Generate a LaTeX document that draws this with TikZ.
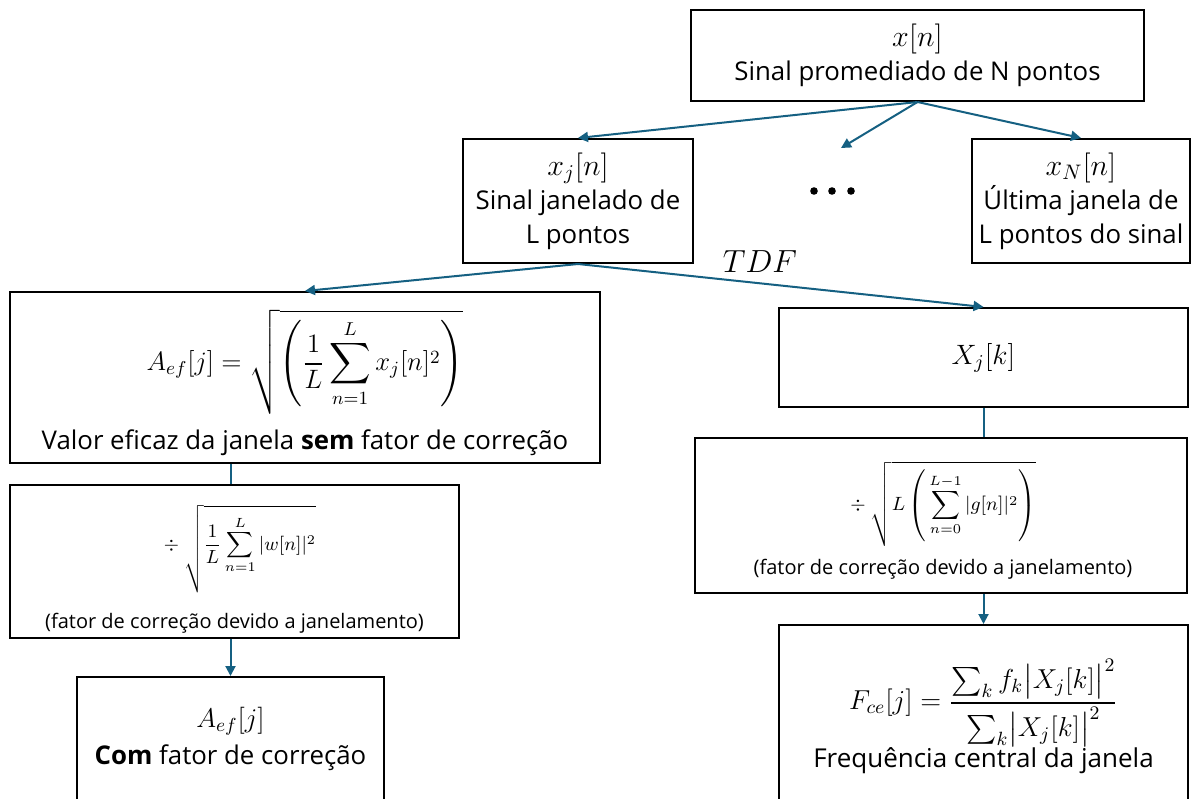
\RequirePackage{fix-cm}
\documentclass[tikz,border=0pt]{standalone}
\usepackage{amsmath}
\usepackage{fontspec}
\setmainfont{Open Sans}
\usetikzlibrary{arrows.meta}
\definecolor{arr}{RGB}{21,96,130}
\begin{document}
\begin{tikzpicture}[x=0.5pt,y=-0.5pt,
  box/.style={draw=black, line width=1pt, inner sep=0pt, align=center, font=\fontsize{12.9}{17}\selectfont},
  txt/.style={inner sep=0pt, align=center, font=\fontsize{12.9}{17}\selectfont},
  smalltxt/.style={inner sep=0pt, font=\fontsize{10}{12}\selectfont},
  conn/.style={draw=arr, line width=1pt},
  arrw/.style={conn, -{Triangle[length=5pt,width=5pt]}}]
\clip (0,0) rectangle (1204,798);
\fill[white] (0,0) rectangle (1204,798);

\node[box, minimum width=226.5pt, minimum height=45.5pt] (top) at (917.5,55.5)
  {{\fontsize{15}{15}\selectfont$x[n]$}\\Sinal promediado de N pontos};
\node[box, minimum width=115pt, minimum height=62pt] (xj) at (578,201)
  {{\fontsize{15}{15}\selectfont$x_j[n]$}\\Sinal janelado de\\L pontos};
\node[box, minimum width=109pt, minimum height=62pt] (xN) at (1081,201)
  {{\fontsize{15}{15}\selectfont$x_N[n]$}\\Última janela de\\L pontos do sinal};
\foreach \i/\xx in {1/814,2/832,3/851} \fill (\xx,191) circle[radius=1.9pt];
\coordinate (dotsin) at (841,148);

% A_ef box
\node[box, minimum width=295pt, minimum height=85.5pt] (aef) at (305,377.5) {};
\node[inner sep=0pt, font=\fontsize{13.3}{13.3}\selectfont] (aefF) at (305,362)
  {$\displaystyle A_{ef}[j] = \sqrt{\left(\rule[-20pt]{0pt}{40pt}\frac{1}{L}\sum_{n=1}^{L} x_j[n]^2\right)}$};
\node[txt] (aefT) at (305,443) {Valor eficaz da janela \textbf{sem} fator de correção};

\node[box, minimum width=204.5pt, minimum height=49.5pt] (Xj) at (983.5,357.5)
  {{\fontsize{14}{14}\selectfont$X_j[k]$}};

% left correction box
\node[box, minimum width=224.5pt, minimum height=76.5pt] (cl) at (234.5,561.5) {};
\node[inner sep=0pt, font=\fontsize{9.5}{12}\selectfont] (clF) at (240,549)
  {$\div\ \displaystyle\sqrt{\rule[-19pt]{0pt}{37pt}\frac{1}{L}\sum_{n=1}^{L}|w[n]|^2}$};
\node[smalltxt] (clT) at (234.5,623) {(fator de correção devido a janelamento)};

% right correction box
\node[box, minimum width=246pt, minimum height=77.5pt] (cr) at (941,515.5) {};
\node[inner sep=0pt, font=\fontsize{9.6}{12}\selectfont] (crF) at (943,504)
  {$\div\ \displaystyle\sqrt{L\left(\rule[-16pt]{0pt}{35pt}\sum_{n=0}^{L-1}|g[n]|^2\right)}$};
\node[smalltxt] (crT) at (943,569) {(fator de correção devido a janelamento)};

% bottom boxes
\node[box, minimum width=153.5pt, minimum height=62pt] (bl) at (230.5,739) {};
\node[txt, font=\fontsize{12.9}{18.5}\selectfont] (bltxt) at (230.5,739)
  {{\fontsize{13.5}{13.5}\selectfont$A_{ef}[j]$}\\\textbf{Com} fator de correção};
\node[box, minimum width=204.5pt, minimum height=100pt] (br) at (983.5,725) {};
\node[inner sep=0pt, font=\fontsize{13.7}{13.7}\selectfont] (brF) at (983.5,703)
  {$\displaystyle F_{ce}[j] = \frac{\textstyle\sum_k f_k\bigl|X_j[k]\bigr|^2}{\textstyle\sum_k\bigl|X_j[k]\bigr|^2}$};
\node[txt, font=\fontsize{13}{17}\selectfont] (brT) at (983.5,761) {Frequência central da janela};

\node[font=\fontsize{16}{16}\selectfont, inner sep=0pt] (tdf) at (760,262) {$TDF$};

\draw[arrw] (top.south) -- (xj.north);
\draw[arrw] (top.south) -- (dotsin);
\draw[arrw] (top.south) -- (xN.north);
\draw[arrw] (xj.south) -- (aef.north);
\draw[arrw] (xj.south) -- (Xj.north);
\draw[conn] (bl.north |- aef.south) -- (bl.north |- cl.north);
\draw[arrw] (bl.north |- cl.south) -- (bl.north);
\draw[conn] (Xj.south) -- (Xj.south |- cr.north);
\draw[arrw] (Xj.south |- cr.south) -- (br.north);
\end{tikzpicture}
\end{document}
